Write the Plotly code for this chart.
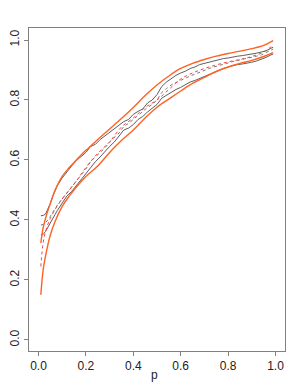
import plotly.graph_objects as go

# smooth (theoretical) curves
p_smooth = [0.01, 0.02, 0.035, 0.05, 0.07, 0.1, 0.13, 0.16, 0.2, 0.25, 0.3, 0.35, 0.4,
            0.45, 0.5, 0.55, 0.6, 0.65, 0.7, 0.75, 0.8, 0.85, 0.9, 0.95, 0.99]
upper_orange = [0.323, 0.375, 0.42, 0.455, 0.50, 0.545, 0.575, 0.60, 0.632, 0.668, 0.703, 0.738,
                0.775, 0.815, 0.85, 0.88, 0.905, 0.922, 0.935, 0.946, 0.955, 0.963, 0.971, 0.982, 0.998]
lower_orange = [0.15, 0.235, 0.30, 0.35, 0.395, 0.445, 0.48, 0.51, 0.545, 0.58, 0.625, 0.665,
                0.70, 0.74, 0.776, 0.803, 0.83, 0.855, 0.875, 0.895, 0.91, 0.922, 0.932, 0.945, 0.958]
mid_red = [0.245, 0.325, 0.375, 0.405, 0.435, 0.47, 0.50, 0.53, 0.575, 0.622, 0.66, 0.71,
           0.74, 0.775, 0.80, 0.835, 0.87, 0.89, 0.905, 0.917, 0.927, 0.935, 0.945, 0.96, 0.983]

# simulated (jagged) curves
p_sim = [0.01, 0.02, 0.03, 0.04, 0.05, 0.06, 0.07, 0.08, 0.10, 0.12, 0.14, 0.16, 0.18, 0.20,
         0.22, 0.24, 0.26, 0.28, 0.30, 0.32, 0.34, 0.36, 0.38, 0.40, 0.42, 0.44, 0.46, 0.48,
         0.50, 0.52, 0.54, 0.56, 0.58, 0.60, 0.62, 0.64, 0.66, 0.68, 0.70, 0.72, 0.74, 0.76,
         0.78, 0.80, 0.82, 0.84, 0.86, 0.88, 0.90, 0.92, 0.94, 0.96, 0.98, 0.99]
upper_gray = [0.414, 0.415, 0.42, 0.435, 0.455, 0.478, 0.50, 0.515, 0.54, 0.562, 0.58, 0.598,
              0.61, 0.625, 0.645, 0.652, 0.668, 0.68, 0.69, 0.705, 0.716, 0.728, 0.735, 0.752,
              0.762, 0.77, 0.79, 0.80, 0.818, 0.845, 0.86, 0.872, 0.882, 0.89, 0.896, 0.905,
              0.91, 0.918, 0.922, 0.926, 0.932, 0.935, 0.938, 0.94, 0.944, 0.946, 0.948, 0.95,
              0.952, 0.956, 0.96, 0.964, 0.972, 0.976]
lower_gray = [0.35, 0.352, 0.362, 0.375, 0.39, 0.405, 0.418, 0.432, 0.455, 0.48, 0.495, 0.515,
              0.535, 0.556, 0.578, 0.594, 0.61, 0.628, 0.645, 0.66, 0.68, 0.70, 0.706, 0.718,
              0.735, 0.745, 0.76, 0.772, 0.785, 0.806, 0.816, 0.826, 0.835, 0.842, 0.852, 0.86,
              0.865, 0.872, 0.878, 0.886, 0.892, 0.898, 0.905, 0.91, 0.915, 0.918, 0.92, 0.922,
              0.926, 0.93, 0.935, 0.942, 0.95, 0.953]
mid_gray = [0.383, 0.385, 0.39, 0.40, 0.412, 0.425, 0.438, 0.45, 0.47, 0.49, 0.51, 0.53, 0.55,
            0.57, 0.595, 0.61, 0.625, 0.64, 0.66, 0.675, 0.69, 0.712, 0.722, 0.735, 0.75, 0.762,
            0.775, 0.785, 0.80, 0.825, 0.838, 0.85, 0.858, 0.866, 0.873, 0.88, 0.886, 0.893, 0.898,
            0.905, 0.91, 0.915, 0.92, 0.924, 0.928, 0.932, 0.935, 0.938, 0.942, 0.946, 0.95,
            0.957, 0.965, 0.97]

x_ticks = [0.0, 0.2, 0.4, 0.6, 0.8, 1.0]
x_tick_labels = ["0.0", "0.2", "0.4", "0.6", "0.8", "1.0"]
y_ticks = [0.0, 0.2, 0.4, 0.6, 0.8, 1.0]
y_tick_labels = ["0.0", "0.2", "0.4", "0.6", "0.8", "1.0"]
x_label = "p"

ORANGE = "#ff6224"
RED = "#ff3a3a"
GRAY = "#5e5e5e"
GRAY_DOT = "#777777"
FONT = "Liberation Sans, Arial, sans-serif"

fig = go.Figure()
fig.add_trace(go.Scatter(x=p_sim, y=upper_gray, mode="lines",
                         line=dict(color=GRAY, width=1)))
fig.add_trace(go.Scatter(x=p_sim, y=lower_gray, mode="lines",
                         line=dict(color=GRAY, width=1)))
fig.add_trace(go.Scatter(x=p_sim, y=mid_gray, mode="lines",
                         line=dict(color=GRAY_DOT, width=1, dash="dot")))
fig.add_trace(go.Scatter(x=p_smooth, y=mid_red, mode="lines",
                         line=dict(color=RED, width=1, dash="dot", shape="spline")))
fig.add_trace(go.Scatter(x=p_smooth, y=upper_orange, mode="lines",
                         line=dict(color=ORANGE, width=1.4, shape="spline")))
fig.add_trace(go.Scatter(x=p_smooth, y=lower_orange, mode="lines",
                         line=dict(color=ORANGE, width=1.4, shape="spline")))

axis_common = dict(
    showgrid=False, zeroline=False, showline=True, linecolor="#808080", linewidth=1,
    mirror=True, ticks="outside", ticklen=4, tickwidth=1, tickcolor="#808080",
    automargin=False,
    tickfont=dict(family=FONT, size=12, color="#222"),
)
# the page body adds an 8px offset on the left/top, so the figure is sized 8px smaller
fig.update_layout(
    template="none",
    width=292, height=380,
    margin=dict(l=21, r=15, t=20, b=37, pad=0),
    paper_bgcolor="white", plot_bgcolor="white",
    showlegend=False,
    xaxis=dict(range=[-0.04, 1.04], tickvals=x_ticks, ticktext=x_tick_labels, **axis_common),
    yaxis=dict(range=[-0.037, 1.04], tickvals=y_ticks, ticktext=y_tick_labels,
               tickangle=-90, **axis_common),
    annotations=[dict(text=x_label, xref="paper", yref="paper", x=0.49, y=-0.074,
                      xanchor="center", yanchor="middle", showarrow=False,
                      font=dict(family=FONT, size=12, color="#222"))],
)
fig.write_html("out.html")
